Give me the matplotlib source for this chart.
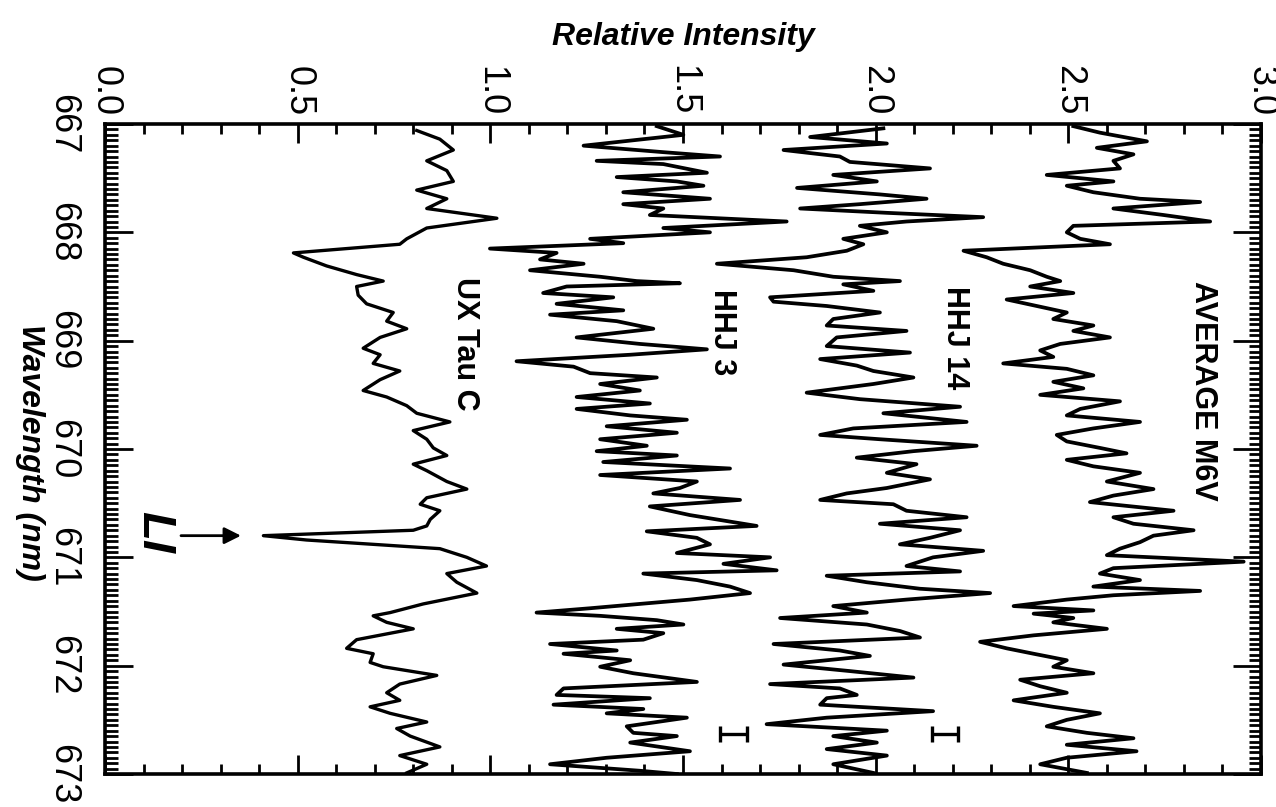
import matplotlib
matplotlib.use("Agg")
import matplotlib.pyplot as plt
from matplotlib.ticker import MultipleLocator, FormatStrFormatter

plt.rcParams['font.family'] = ['Liberation Sans Narrow', 'Liberation Sans', 'DejaVu Sans']

# wavelength (nm) / relative intensity
ux_wl = [667.06, 667.14, 667.24, 667.34, 667.43, 667.53, 667.61, 667.69, 667.78, 667.87,
         667.96, 668.06, 668.11, 668.19, 668.23, 668.31, 668.39, 668.45, 668.50, 668.58,
         668.66, 668.74, 668.82, 668.89, 668.97, 669.07, 669.13, 669.21, 669.28, 669.36,
         669.46, 669.52, 669.60, 669.67, 669.75, 669.83, 669.91, 669.99, 670.06, 670.14,
         670.20, 670.30, 670.37, 670.45, 670.51, 670.57, 670.65, 670.71, 670.75, 670.80,
         670.84, 670.88, 670.92, 671.00, 671.08, 671.15, 671.23, 671.33, 671.43, 671.51,
         671.54, 671.60, 671.66, 671.76, 671.84, 671.89, 671.97, 672.01, 672.09, 672.17,
         672.25, 672.32, 672.38, 672.44, 672.52, 672.58, 672.65, 672.75, 672.83, 672.91,
         672.99]
ux_int = [0.809, 0.869, 0.904, 0.835, 0.887, 0.904, 0.809, 0.887, 0.835, 1.017,
          0.835, 0.783, 0.765, 0.489, 0.515, 0.575, 0.653, 0.722, 0.653, 0.657,
          0.679, 0.748, 0.731, 0.783, 0.714, 0.670, 0.714, 0.696, 0.765, 0.714,
          0.670, 0.731, 0.783, 0.809, 0.895, 0.800, 0.835, 0.852, 0.887, 0.800,
          0.835, 0.887, 0.939, 0.835, 0.818, 0.869, 0.844, 0.835, 0.800, 0.411,
          0.523, 0.696, 0.869, 0.939, 0.990, 0.887, 0.913, 0.965, 0.826, 0.740,
          0.696, 0.731, 0.800, 0.653, 0.627, 0.696, 0.688, 0.722, 0.861, 0.765,
          0.731, 0.765, 0.688, 0.740, 0.835, 0.757, 0.792, 0.869, 0.765, 0.835,
          0.783]

hhj3_wl = [667.02, 667.10, 667.20, 667.26, 667.30, 667.34, 667.37, 667.45, 667.49, 667.53,
           667.57, 667.63, 667.69, 667.74, 667.78, 667.84, 667.90, 667.96, 668.00, 668.06,
           668.10, 668.15, 668.19, 668.25, 668.29, 668.35, 668.41, 668.45, 668.47, 668.50,
           668.56, 668.60, 668.66, 668.72, 668.76, 668.82, 668.89, 668.97, 669.03, 669.08,
           669.13, 669.19, 669.24, 669.30, 669.34, 669.40, 669.46, 669.52, 669.58, 669.63,
           669.69, 669.73, 669.79, 669.85, 669.91, 669.97, 670.02, 670.06, 670.12, 670.18,
           670.24, 670.30, 670.36, 670.41, 670.47, 670.53, 670.61, 670.71, 670.76, 670.82,
           670.88, 670.96, 671.00, 671.06, 671.12, 671.15, 671.21, 671.27, 671.33, 671.39,
           671.43, 671.47, 671.51, 671.54, 671.58, 671.62, 671.66, 671.70, 671.76, 671.80,
           671.86, 671.89, 671.95, 672.01, 672.07, 672.15, 672.21, 672.27, 672.30, 672.36,
           672.40, 672.44, 672.48, 672.56, 672.62, 672.65, 672.71, 672.79, 672.85, 672.91,
           672.97, 673.00]
hhj3_int = [1.432, 1.501, 1.242, 1.449, 1.596, 1.276, 1.449, 1.562, 1.328, 1.484,
            1.553, 1.345, 1.570, 1.345, 1.449, 1.414, 1.769, 1.449, 1.570, 1.259,
            1.345, 0.999, 1.172, 1.129, 1.242, 1.103, 1.285, 1.380, 1.492, 1.198,
            1.137, 1.319, 1.172, 1.345, 1.155, 1.328, 1.423, 1.224, 1.388, 1.562,
            1.363, 1.068, 1.216, 1.259, 1.432, 1.285, 1.388, 1.224, 1.414, 1.224,
            1.363, 1.510, 1.302, 1.484, 1.285, 1.406, 1.276, 1.484, 1.293, 1.622,
            1.285, 1.536, 1.492, 1.423, 1.648, 1.414, 1.518, 1.691, 1.406, 1.536,
            1.570, 1.484, 1.726, 1.605, 1.743, 1.397, 1.536, 1.622, 1.674, 1.518,
            1.388, 1.259, 1.120, 1.285, 1.432, 1.501, 1.328, 1.449, 1.397, 1.155,
            1.328, 1.190, 1.363, 1.285, 1.371, 1.536, 1.190, 1.172, 1.414, 1.164,
            1.397, 1.302, 1.510, 1.354, 1.371, 1.484, 1.363, 1.518, 1.302, 1.155,
            1.388, 1.484]

hhj14_wl = [667.04, 667.12, 667.18, 667.24, 667.30, 667.35, 667.41, 667.47, 667.53, 667.59,
            667.65, 667.69, 667.74, 667.78, 667.82, 667.86, 667.90, 667.94, 668.00, 668.06,
            668.11, 668.17, 668.23, 668.29, 668.35, 668.41, 668.45, 668.48, 668.54, 668.60,
            668.64, 668.68, 668.74, 668.80, 668.86, 668.91, 668.97, 669.05, 669.11, 669.17,
            669.23, 669.28, 669.34, 669.40, 669.48, 669.54, 669.61, 669.67, 669.75, 669.81,
            669.87, 669.91, 669.97, 670.02, 670.08, 670.14, 670.22, 670.28, 670.36, 670.41,
            670.47, 670.51, 670.57, 670.63, 670.69, 670.75, 670.82, 670.88, 670.94, 671.00,
            671.08, 671.13, 671.17, 671.23, 671.29, 671.33, 671.39, 671.45, 671.51, 671.56,
            671.62, 671.68, 671.74, 671.80, 671.86, 671.91, 671.99, 672.05, 672.11, 672.17,
            672.21, 672.27, 672.30, 672.36, 672.42, 672.48, 672.54, 672.60, 672.65, 672.71,
            672.77, 672.83, 672.91, 672.99]
hhj14_int = [2.020, 1.830, 2.029, 1.761, 1.907, 1.933, 2.141, 1.890, 2.003, 1.796,
             2.011, 2.132, 1.959, 1.804, 2.029, 2.279, 2.080, 1.959, 2.029, 1.916,
             1.968, 1.925, 1.821, 1.588, 1.787, 1.890, 2.063, 1.916, 1.994, 1.726,
             1.735, 1.873, 2.011, 1.890, 1.873, 2.080, 1.899, 1.873, 2.089, 1.856,
             1.951, 1.994, 2.098, 1.994, 1.821, 1.959, 2.219, 2.020, 2.236, 1.942,
             1.856, 2.011, 2.262, 2.098, 1.951, 2.106, 2.029, 2.141, 2.029, 1.925,
             1.856, 2.046, 2.080, 2.236, 2.011, 2.219, 2.141, 2.063, 2.279, 2.149,
             2.080, 2.219, 1.873, 1.977, 2.115, 2.297, 2.080, 1.890, 1.977, 1.752,
             1.977, 2.063, 2.115, 1.735, 1.907, 1.985, 1.761, 1.933, 2.098, 1.726,
             1.907, 1.951, 1.873, 1.856, 2.149, 1.873, 1.717, 2.029, 1.890, 2.003,
             1.873, 2.029, 1.890, 1.994]

avg_wl = [667.02, 667.08, 667.16, 667.22, 667.28, 667.34, 667.41, 667.47, 667.53, 667.57,
          667.63, 667.69, 667.72, 667.78, 667.84, 667.90, 667.94, 668.00, 668.06, 668.11,
          668.17, 668.23, 668.29, 668.35, 668.41, 668.45, 668.50, 668.56, 668.62, 668.68,
          668.74, 668.80, 668.86, 668.91, 668.97, 669.03, 669.09, 669.15, 669.21, 669.26,
          669.32, 669.38, 669.44, 669.50, 669.56, 669.63, 669.69, 669.75, 669.81, 669.87,
          669.93, 669.99, 670.04, 670.10, 670.16, 670.22, 670.30, 670.37, 670.43, 670.49,
          670.57, 670.63, 670.69, 670.75, 670.80, 670.86, 670.92, 670.98, 671.04, 671.10,
          671.15, 671.21, 671.27, 671.31, 671.35, 671.39, 671.45, 671.49, 671.52, 671.56,
          671.60, 671.66, 671.72, 671.78, 671.84, 671.89, 671.95, 672.01, 672.07, 672.13,
          672.19, 672.25, 672.32, 672.38, 672.44, 672.50, 672.56, 672.62, 672.67, 672.73,
          672.79, 672.85, 672.91, 672.99]
avg_int = [2.513, 2.582, 2.704, 2.574, 2.669, 2.617, 2.634, 2.444, 2.617, 2.496,
           2.565, 2.686, 2.842, 2.617, 2.747, 2.868, 2.513, 2.496, 2.531, 2.608,
           2.228, 2.288, 2.331, 2.401, 2.444, 2.479, 2.401, 2.513, 2.340, 2.418,
           2.496, 2.461, 2.565, 2.513, 2.608, 2.479, 2.427, 2.461, 2.331, 2.496,
           2.565, 2.461, 2.539, 2.427, 2.634, 2.531, 2.496, 2.686, 2.565, 2.470,
           2.496, 2.582, 2.651, 2.496, 2.565, 2.686, 2.600, 2.721, 2.617, 2.556,
           2.773, 2.617, 2.669, 2.825, 2.721, 2.686, 2.634, 2.600, 2.955, 2.617,
           2.582, 2.686, 2.565, 2.842, 2.617, 2.496, 2.358, 2.565, 2.410, 2.513,
           2.461, 2.600, 2.410, 2.271, 2.340, 2.410, 2.496, 2.461, 2.565, 2.375,
           2.427, 2.496, 2.358, 2.461, 2.582, 2.496, 2.444, 2.548, 2.669, 2.496,
           2.677, 2.496, 2.427, 2.548]

labels = ['UX Tau C', 'HHJ 3', 'HHJ 14', 'AVERAGE M6V']
label_int = [0.934, 1.601, 2.206, 2.850]
label_wl = [669.03, 668.92, 668.97, 669.46]

# noise bars
bar_int = [1.630, 2.180]
bar_wl = [672.63, 672.63]
bar_half = [0.035, 0.033]

li_wl = 670.80

fig = plt.figure(figsize=(12.76, 8.07), dpi=100)
ax = fig.add_axes([105 / 1276, 1 - 774 / 807, 1156 / 1276, 650 / 807])

ax.plot(ux_int, ux_wl, color='black', lw=2.4)
ax.plot(hhj3_int, hhj3_wl, color='black', lw=2.7)
ax.plot(hhj14_int, hhj14_wl, color='black', lw=2.7)
ax.plot(avg_int, avg_wl, color='black', lw=2.7)

ax.errorbar(bar_int, bar_wl, xerr=bar_half, fmt='none', ecolor='black',
            elinewidth=2.4, capsize=6, capthick=2.4)

for t, x, y in zip(labels, label_int, label_wl):
    ax.text(x, y, t, rotation=-90, ha='center', va='center', fontsize=22,
            fontweight='bold')

ax.annotate('', xy=(0.36, li_wl), xytext=(0.19, li_wl),
            arrowprops=dict(arrowstyle='-|>', color='black', lw=2,
                            mutation_scale=25))
ax.text(0.128, li_wl - 0.03, 'LI', rotation=-90, ha='center', va='center',
        fontsize=34, fontweight='bold', fontstyle='italic')

ax.set_xlim(0, 3)
ax.set_ylim(673, 667)

ax.xaxis.set_major_locator(MultipleLocator(0.5))
ax.xaxis.set_minor_locator(MultipleLocator(0.1))
ax.xaxis.set_major_formatter(FormatStrFormatter('%.1f'))
ax.yaxis.set_major_locator(MultipleLocator(1))
ax.yaxis.set_minor_locator(MultipleLocator(0.05))
ax.yaxis.set_major_formatter(FormatStrFormatter('%d'))

ax.tick_params(axis='x', which='both', direction='in', top=True, bottom=True,
               labeltop=True, labelbottom=False, width=2)
ax.tick_params(axis='x', which='major', length=14, pad=6, labelsize=26,
               labelrotation=-90)
ax.tick_params(axis='x', which='minor', length=7)
ax.tick_params(axis='y', which='both', direction='in', left=True, right=True,
               width=2)
ax.tick_params(axis='y', which='major', length=20, pad=18, labelsize=26,
               labelrotation=-90)
ax.tick_params(axis='y', which='minor', length=9)
for lab in ax.get_yticklabels():
    lab.set_va('center')

for s in ax.spines.values():
    s.set_linewidth(2.6)

fig.text(683 / 1276, 1 - 45 / 807, 'Relative Intensity', ha='center',
         va='baseline', fontsize=23, fontweight='bold', fontstyle='italic')
fig.text(30 / 1276, 1 - 452 / 807, 'Wavelength (nm)', ha='center', va='center',
         rotation=-90, fontsize=23, fontweight='bold', fontstyle='italic')

fig.savefig('out.png', dpi=100)
